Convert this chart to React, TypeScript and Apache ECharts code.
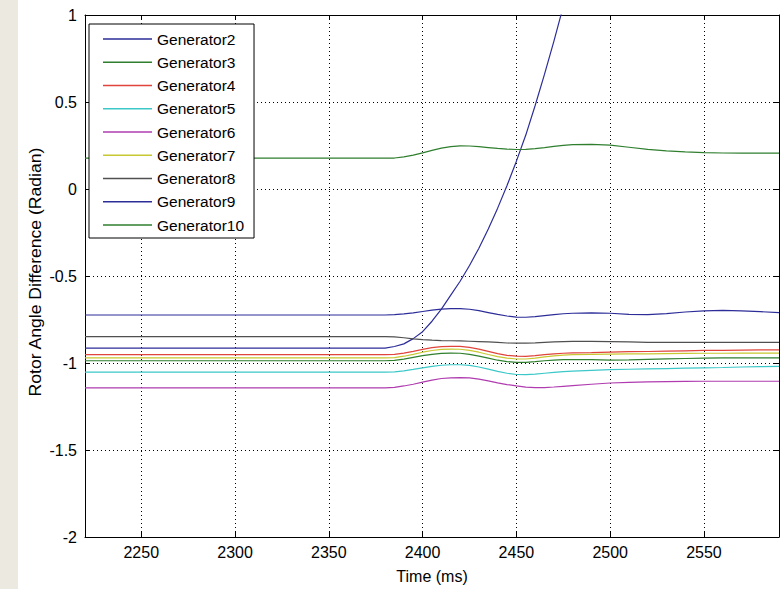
import React, { useEffect, useRef } from "react";
import * as echarts from "echarts";

const times = [2220, 2380, 2385, 2390, 2395, 2400, 2405, 2410, 2415, 2420, 2425, 2430, 2435, 2440, 2445, 2450, 2455, 2460, 2465, 2470, 2475, 2480, 2490, 2500, 2510, 2520, 2530, 2540, 2550, 2560, 2570, 2580, 2590];

const gen2 = [-0.915, -0.915, -0.905, -0.89, -0.86, -0.82, -0.76, -0.69, -0.61, -0.53, -0.44, -0.34, -0.23, -0.11, 0.02, 0.16, 0.31, 0.48, 0.66, 0.85, 1.05, 1.26, null, null, null, null, null, null, null, null, null, null, null];
const gen3 = [0.177, 0.177, 0.178, 0.185, 0.195, 0.208, 0.222, 0.235, 0.244, 0.248, 0.247, 0.243, 0.238, 0.233, 0.229, 0.227, 0.228, 0.232, 0.238, 0.245, 0.251, 0.255, 0.257, 0.252, 0.24, 0.228, 0.219, 0.213, 0.209, 0.207, 0.206, 0.206, 0.206];
const gen4 = [-0.952, -0.952, -0.95, -0.943, -0.933, -0.922, -0.912, -0.906, -0.904, -0.905, -0.91, -0.92, -0.933, -0.946, -0.956, -0.961, -0.962, -0.958, -0.952, -0.947, -0.944, -0.942, -0.94, -0.937, -0.935, -0.934, -0.932, -0.93, -0.928, -0.927, -0.926, -0.925, -0.924];
const gen5 = [-1.053, -1.053, -1.051, -1.045, -1.037, -1.028, -1.019, -1.013, -1.01, -1.01, -1.014, -1.023, -1.035, -1.048, -1.059, -1.066, -1.067, -1.064, -1.059, -1.054, -1.05, -1.047, -1.042, -1.038, -1.036, -1.034, -1.032, -1.03, -1.028, -1.026, -1.023, -1.021, -1.019];
const gen6 = [-1.143, -1.143, -1.14, -1.132, -1.122, -1.11, -1.098, -1.089, -1.085, -1.084, -1.086, -1.093, -1.103, -1.114, -1.124, -1.132, -1.139, -1.142, -1.141, -1.138, -1.134, -1.13, -1.122, -1.115, -1.111, -1.109, -1.107, -1.106, -1.105, -1.105, -1.105, -1.105, -1.105];
const gen7 = [-0.971, -0.971, -0.969, -0.961, -0.95, -0.938, -0.928, -0.922, -0.92, -0.921, -0.927, -0.938, -0.951, -0.963, -0.972, -0.977, -0.977, -0.972, -0.965, -0.959, -0.955, -0.952, -0.95, -0.949, -0.948, -0.947, -0.946, -0.945, -0.944, -0.944, -0.943, -0.943, -0.943];
const gen8 = [-0.848, -0.848, -0.85, -0.855, -0.861, -0.866, -0.869, -0.871, -0.872, -0.873, -0.875, -0.877, -0.879, -0.882, -0.885, -0.886, -0.886, -0.884, -0.881, -0.879, -0.877, -0.876, -0.876, -0.877, -0.879, -0.881, -0.882, -0.882, -0.882, -0.882, -0.882, -0.882, -0.882];
const gen9 = [-0.724, -0.724, -0.722, -0.718, -0.712, -0.704, -0.696, -0.69, -0.687, -0.687, -0.691, -0.699, -0.71, -0.721, -0.73, -0.736, -0.737, -0.734, -0.728, -0.722, -0.717, -0.714, -0.712, -0.714, -0.72, -0.722, -0.716, -0.707, -0.7, -0.698, -0.7, -0.705, -0.71];
const gen10 = [-0.987, -0.987, -0.985, -0.978, -0.968, -0.958, -0.95, -0.945, -0.943, -0.944, -0.95, -0.96, -0.972, -0.984, -0.992, -0.996, -0.996, -0.992, -0.987, -0.983, -0.981, -0.98, -0.981, -0.983, -0.982, -0.979, -0.976, -0.974, -0.972, -0.971, -0.971, -0.971, -0.971];

const seriesNames = ["Generator2", "Generator3", "Generator4", "Generator5", "Generator6", "Generator7", "Generator8", "Generator9", "Generator10"];
const seriesValues = [gen2, gen3, gen4, gen5, gen6, gen7, gen8, gen9, gen10];
const seriesColors = ["#2d2d99", "#2f7f2f", "#e0443c", "#3cc8c8", "#b03cb0", "#c8c832", "#505050", "#2d2d99", "#2f7f2f"];

const yTitle = "Rotor Angle Difference (Radian)";
const xTitle = "Time (ms)";

const FONT = "Liberation Sans, Arial, sans-serif";

export default function App() {
  const ref = useRef<HTMLDivElement>(null);
  useEffect(() => {
    document.body.style.margin = "0";
    const chart = echarts.init(ref.current!, null, { renderer: "svg" });
    const gridLine = { show: true, lineStyle: { color: "#000", width: 1, type: [1, 3] as any } };
    const xCommon = {
      type: "value" as const,
      min: 2220,
      max: 2590,
      splitNumber: 7,
      minInterval: 50,
      maxInterval: 50,
      axisLine: { show: true, onZero: false, lineStyle: { color: "#000", width: 1 } },
      axisTick: { show: true, inside: true, length: 5, lineStyle: { color: "#000" } },
    };
    const yCommon = {
      type: "value" as const,
      min: -2,
      max: 1,
      interval: 0.5,
      axisLine: { show: true, onZero: false, lineStyle: { color: "#000", width: 1 } },
      axisTick: { show: true, inside: true, length: 5, lineStyle: { color: "#000" } },
    };
    chart.setOption({
      animation: false,
      backgroundColor: "#fff",
      textStyle: { fontFamily: FONT },
      graphic: [
        { type: "rect", left: 0, top: 0, shape: { width: 18, height: 589 }, style: { fill: "#ECE9E1" }, silent: true },
        {
          type: "text",
          x: 36,
          y: 272,
          rotation: Math.PI / 2,
          scaleX: 1.1,
          silent: true,
          style: { text: yTitle, fontSize: 16, fill: "#000", fontFamily: FONT, align: "center", verticalAlign: "middle" },
        },
      ],
      grid: { left: 85, right: 5, top: 15, bottom: 47, containLabel: false },
      legend: {
        orient: "vertical",
        left: 89,
        top: 24,
        padding: [7, 10, 5, 14],
        icon: "rect",
        itemWidth: 49,
        itemHeight: 1.6,
        itemGap: 7.25,
        backgroundColor: "#fff",
        borderColor: "#000",
        borderWidth: 1,
        borderRadius: 0,
        textStyle: { fontSize: 15.5, color: "#000", fontFamily: FONT, lineHeight: 16 },
        data: seriesNames,
      },
      xAxis: [
        {
          ...xCommon,
          position: "bottom",
          name: xTitle,
          nameLocation: "middle",
          nameGap: 31,
          nameTextStyle: { fontSize: 16, color: "#000", fontFamily: FONT },
          axisLabel: {
            show: true,
            fontSize: 16,
            color: "#000",
            margin: 7,
            showMinLabel: false,
            showMaxLabel: false,
            fontFamily: FONT,
            formatter: (v: number) => String(v),
          },
          splitLine: gridLine,
        },
        {
          ...xCommon,
          position: "top",
          axisLabel: { show: false },
          splitLine: { show: false },
        },
      ],
      yAxis: [
        {
          ...yCommon,
          position: "left",
          axisLabel: { show: true, fontSize: 16, color: "#000", margin: 8, fontFamily: FONT, formatter: (v: number) => String(v) },
          splitLine: gridLine,
        },
        {
          ...yCommon,
          position: "right",
          axisLabel: { show: false },
          splitLine: { show: false },
        },
      ],
      series: seriesNames.map((name, i) => ({
        name,
        type: "line",
        xAxisIndex: 0,
        yAxisIndex: 0,
        symbol: "none",
        clip: true,
        connectNulls: false,
        smooth: false,
        lineStyle: { color: seriesColors[i], width: 1.2 },
        itemStyle: { color: seriesColors[i] },
        data: times.map((t, j) => [t, seriesValues[i][j]]),
      })),
    });
    return () => chart.dispose();
  }, []);
  return <div ref={ref} style={{ width: 784, height: 589 }} />;
}
